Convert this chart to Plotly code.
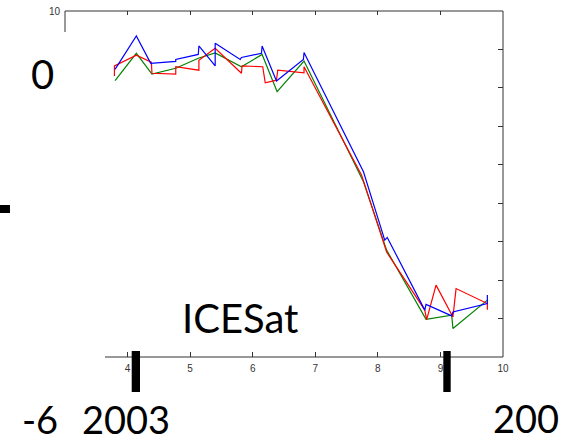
import plotly.graph_objects as go

# ---- data ----
blue_x = [3.80, 4.14, 4.37, 4.77, 4.77, 5.13, 5.14, 5.40, 5.40, 5.80, 5.82, 6.14, 6.15,
          6.38, 6.81, 6.82, 7.77, 8.11, 8.15, 8.75, 8.77, 9.18, 9.20, 9.75, 9.75]
blue_y = [8.48, 9.35, 8.64, 8.69, 8.74, 8.87, 9.09, 8.57, 9.16, 8.74, 8.79, 8.90, 9.09,
          8.18, 8.74, 8.92, 5.82, 4.04, 4.11, 2.22, 2.37, 2.07, 2.17, 2.39, 2.61]

red_x = [3.79, 3.79, 4.14, 4.38, 4.39, 4.77, 4.77, 5.14, 5.14, 5.40, 5.82, 5.83, 6.16, 6.20,
         6.38, 6.40, 6.82, 6.82, 7.74, 8.14, 8.75, 8.78, 8.93, 9.20, 9.25, 9.75, 9.75]
red_y = [8.31, 8.57, 8.85, 8.67, 8.38, 8.36, 8.55, 8.46, 8.72, 9.03, 8.38, 8.57, 8.55, 8.13,
         8.20, 8.46, 8.39, 8.55, 5.73, 3.73, 2.22, 1.97, 2.87, 2.04, 2.78, 2.39, 2.23]

green_x = [3.80, 4.14, 4.39, 4.77, 5.13, 5.40, 5.82, 6.15, 6.39, 6.82, 7.77, 8.14,
           8.77, 9.18, 9.20, 9.75]
green_y = [8.19, 8.90, 8.36, 8.51, 8.77, 8.91, 8.55, 8.87, 7.90, 8.70, 5.56, 3.78,
           1.98, 2.09, 1.74, 2.48]

x_ticks = [4, 5, 6, 7, 8, 9, 10]
x_tick_labels = ["4", "5", "6", "7", "8", "9", "10"]

# ---- layout geometry (pixels) ----
W, H = 585, 442
L, R, T, B = 65, 503, 11, 357


def px(x):
    return (x - L) / (R - L)


def py(y):
    return (B - y) / (B - T)


fig = go.Figure()
for xs, ys, col in [(green_x, green_y, "#008000"), (red_x, red_y, "#ff0000"), (blue_x, blue_y, "#0000ff")]:
    fig.add_trace(go.Scatter(x=xs, y=ys, mode="lines", line=dict(color=col, width=1.2),
                             showlegend=False, hoverinfo="skip"))
# trace for the secondary axes
fig.add_trace(go.Scatter(x=[3], y=[10], xaxis="x2", yaxis="y2", mode="markers",
                         marker=dict(opacity=0), showlegend=False, hoverinfo="skip"))

axc = "#333333"
fig.update_layout(
    width=W, height=H,
    margin=dict(l=L, r=W - R, t=T, b=H - B, pad=0, autoexpand=False),
    paper_bgcolor="white", plot_bgcolor="white",
    xaxis=dict(range=[3, 10], tickvals=x_ticks, ticktext=x_tick_labels, ticks="inside",
               ticklen=5, tickcolor=axc, showline=False, showgrid=False, zeroline=False,
               tickfont=dict(family="Liberation Sans", size=10, color="#333333"),
               ticklabelstandoff=4, automargin=False),
    xaxis2=dict(range=[3, 10], overlaying="x", side="top", tickvals=x_ticks[:-1],
                ticks="inside", ticklen=4, tickcolor=axc, showticklabels=False,
                showline=False, showgrid=False, zeroline=False, automargin=False),
    yaxis=dict(range=[1, 10], side="right", dtick=1, ticks="inside", ticklen=5,
               tickcolor=axc, showticklabels=False, showline=False, showgrid=False,
               zeroline=False, automargin=False),
    yaxis2=dict(range=[1, 10], overlaying="y", side="left", tickvals=[10], ticktext=["10"],
                ticks="", showline=False, showgrid=False, zeroline=False,
                tickfont=dict(family="Liberation Sans", size=10, color="#333333"),
                ticklabelstandoff=4, automargin=False),
)

shapes = []
line = dict(color=axc, width=1)
# axis frame pieces that are visible
shapes.append(dict(type="line", xref="paper", yref="paper", x0=0, x1=1, y0=1, y1=1, line=line))
shapes.append(dict(type="line", xref="paper", yref="paper", x0=1, x1=1, y0=0, y1=1, line=line))
shapes.append(dict(type="line", xref="paper", yref="paper", x0=0, x1=0, y0=py(32), y1=1, line=line))
shapes.append(dict(type="line", xref="paper", yref="paper", x0=px(105), x1=1, y0=0, y1=0, line=line))
# black bars
for (x0, x1, y0, y1) in [(131.7, 140, 351, 392), (443.3, 450.7, 351, 392), (0, 10, 205, 213)]:
    shapes.append(dict(type="rect", xref="paper", yref="paper", x0=px(x0), x1=px(x1),
                       y0=py(y1), y1=py(y0), fillcolor="black", line=dict(width=0), layer="above"))
fig.update_layout(shapes=shapes)

texts = [("0", 42, 74, 40), ("-6", 40, 419, 38), ("2003", 125.5, 419, 38),
         ("200", 525.5, 418.5, 38), ("ICESat", 239.5, 318, 40)]
for t, x, y, s in texts:
    fig.add_annotation(text=t, xref="paper", yref="paper", x=px(x), y=py(y), xanchor="center",
                       yanchor="middle", showarrow=False, borderpad=0,
                       font=dict(family="Lato", size=s, color="black"))

fig.write_html("out.html", config={"displayModeBar": False},
               post_script="document.body.style.margin='0';")
